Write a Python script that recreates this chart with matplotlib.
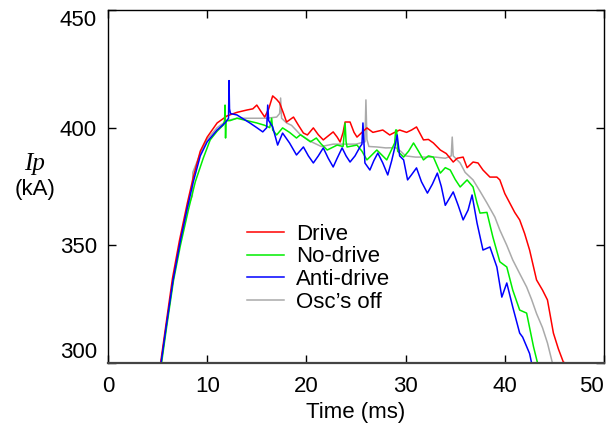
import matplotlib
matplotlib.use("Agg")
import matplotlib.pyplot as plt

# Drive
t_drive = [5.3, 5.8, 6.5, 7.2, 8.0, 8.6, 9.3, 10.0, 11.0, 12.0, 13.0, 14.0, 14.6, 15.0, 15.4,
           15.8, 16.2, 16.6, 17.0, 17.3, 17.7, 18.0, 18.7, 19.2, 19.7, 20.1, 20.7, 21.2, 21.7,
           22.2, 22.7, 23.1, 23.4, 23.7, 23.9, 24.4, 24.8, 25.1, 25.6, 26.1, 26.7, 27.2, 27.7,
           28.4, 28.9, 29.4, 30.1, 30.6, 31.1, 31.8, 32.3, 32.8, 33.5, 34.1, 34.8, 35.2, 35.8,
           36.2, 36.8, 37.3, 37.8, 38.5, 39.2, 39.5, 40.0, 40.5, 41.0, 41.5, 42.0, 42.5, 43.2,
           43.8, 44.3, 44.9, 45.4, 45.9, 46.1]
v_drive = [300, 315, 336, 352, 368, 379, 390, 396, 402, 405, 406.5, 407.5, 408, 409.6, 407,
           404.5, 408, 413.5, 412, 410.5, 406, 402.4, 404.5, 401, 397.7, 396.9, 399.9, 397, 394.8,
           396.5, 398.2, 396, 393.9, 398, 402.4, 402.4, 398, 396, 398, 399.9, 398, 398.5, 399,
           396.9, 398, 399, 398, 399, 400.3, 394.8, 395, 393.5, 390.5, 389, 385.4, 387, 387.5,
           383, 385.4, 385, 382, 379, 379, 377.8, 372, 368, 364, 360.8, 355, 348, 335.3,
           331, 326.8, 312.7, 306, 300.4, 300]

# No-drive
t_nodrive = [5.4, 5.9, 6.6, 7.3, 8.1, 8.8, 9.6, 10.3, 11.0, 11.6, 11.75, 11.8, 11.85, 11.9, 12.3,
             13.0, 14.0, 15.0, 15.8, 16.3, 16.5, 16.6, 17.0, 17.6, 18.3, 19.0, 19.4, 20.4, 21.0,
             21.5, 22.1, 23.1, 23.7, 23.9, 24.0, 24.1, 25.1, 25.6, 26.1, 27.1, 28.1, 28.9, 29.0,
             29.1, 29.2, 29.8, 30.3, 30.8, 31.3, 31.8, 32.3, 32.8, 33.5, 34.0, 34.5, 35.0, 35.5,
             36.2, 36.8, 37.2, 37.5, 38.2, 38.8, 39.5, 40.2, 40.8, 41.5, 42.2, 42.9, 43.3]
v_nodrive = [300, 315, 335, 350, 365, 377, 387, 394.8, 398.5, 401, 403, 409.6, 395.6, 403, 403,
             404, 403, 402, 401, 400, 404, 399, 396.9, 399.9, 398, 395.6, 397, 394, 395.6,
             393, 390.5, 392.6, 392, 402, 394, 391.8, 392.6, 390, 386.3, 390.5, 386.3, 393.5, 399,
             399, 390, 387.5, 390, 393.5, 390, 386.3, 388, 387.5, 380.7, 383, 382, 378, 374.8,
             377.8, 374.8, 368, 363.7, 364, 353.5, 343, 340.8, 331, 322.5, 321.2, 306.8, 300]

# Anti-drive
t_anti = [5.35, 5.85, 6.55, 7.3, 8.0, 8.6, 9.3, 10.0, 11.0, 11.8, 12.15, 12.2, 12.25, 12.35, 13.0,
          14.3, 15.0, 15.6, 16.0, 16.1, 16.2, 16.6, 17.1, 17.6, 18.3, 19.0, 19.7, 20.2, 20.7,
          21.2, 21.7, 22.2, 22.7, 23.1, 23.6, 24.0, 24.4, 24.9, 25.4, 25.6, 25.7, 25.9, 26.4,
          26.8, 27.2, 27.7, 28.2, 28.6, 28.9, 29.15, 29.4, 29.8, 30.2, 30.6, 31.1, 31.6, 32.2,
          32.7, 33.2, 33.6, 34.0, 34.8, 35.3, 35.8, 36.3, 36.7, 37.2, 37.8, 38.5, 39.2, 39.7,
          40.2, 40.8, 41.5, 41.8, 42.5, 42.7]
v_anti = [300, 315, 335, 352, 366, 377, 388, 394, 399, 402, 404, 420, 408, 406, 405.4,
          402, 400, 398.2, 400, 409.6, 403, 400.3, 392.6, 397.7, 393.5, 388.4, 391.8, 388, 385,
          388, 391.4, 387, 383.3, 387, 391.4, 388, 385.4, 388, 391.8, 393, 402, 385, 382,
          386, 389.2, 385, 379.9, 386, 391.4, 396.9, 388, 386.3, 377.8, 380, 382.9, 377, 372.2,
          376, 380.7, 375, 367, 372.7, 367, 360.8, 365, 371.4, 359.5, 348, 349.3, 340.8, 328,
          334, 323.8, 312.7, 311, 304, 300]

# Osc's off
t_off = [5.35, 5.85, 6.55, 7.3, 8.0, 8.5, 8.55, 9.3, 10.0, 11.0, 12.0, 13.0, 14.0, 15.0, 16.0,
         17.0, 17.3, 17.4, 17.5, 18.0, 18.5, 19.4, 20.5, 21.5, 22.7, 24.0, 25.0, 25.9, 26.0,
         26.1, 26.3, 27.1, 28.0, 29.0, 29.5, 30.0, 31.0, 32.0, 33.0, 34.0, 34.6, 34.7, 34.8,
         35.5, 36.0, 36.8, 37.5, 38.2, 39.0, 39.5, 40.2, 40.8, 41.5, 42.2, 42.7, 43.2, 43.8,
         44.3, 44.8]
v_off = [300, 315, 335, 352, 366, 371, 381, 389, 395, 400, 403, 404, 404, 404, 404,
         404.5, 406, 412.6, 404, 402, 401, 397, 394, 392, 393, 393, 393, 394, 411.8,
         395, 392, 391.8, 391.4, 391.5, 390, 388, 387.5, 387.5, 387.5, 387, 388, 396, 388,
         385, 381, 377.8, 373, 368, 362, 356.5, 350, 343.8, 338, 332.3, 327, 321, 315,
         308.5, 300]

x_ticks = [0, 10, 20, 30, 40, 50]
y_ticks = [300, 350, 400, 450]

plt.rcParams['font.family'] = ['Liberation Sans', 'DejaVu Sans']

fig = plt.figure(figsize=(6.13, 4.28), dpi=100)
ax = fig.add_axes([108 / 613, 1 - 363 / 428, 496 / 613, 353 / 428])

l_off, = ax.plot(t_off, v_off, color='#aaaaaa', lw=1.1)
l_drive, = ax.plot(t_drive, v_drive, color='#ff0000', lw=1.1)
l_nodrive, = ax.plot(t_nodrive, v_nodrive, color='#00ee00', lw=1.1)
l_anti, = ax.plot(t_anti, v_anti, color='#0000ff', lw=1.1)

ax.set_xlim(0, 50)
ax.set_ylim(300, 450)
ax.set_xticks(x_ticks)
ax.set_yticks(y_ticks)
ax.tick_params(direction='in', length=6, width=1, top=True, right=True, labelsize=16)
ax.tick_params(axis='x', pad=9)
ax.tick_params(axis='y', pad=8)
# end labels are pulled inside, as in the original
ax.get_xticklabels()[-1].set_horizontalalignment('right')
ax.get_yticklabels()[0].set_verticalalignment('bottom')
ax.get_yticklabels()[-1].set_verticalalignment('top')
for side in ['left', 'right', 'top']:
    ax.spines[side].set_linewidth(1.0)
ax.spines['bottom'].set_linewidth(1.6)
ax.spines['bottom'].set_color('#444444')

ax.set_xlabel('Time (ms)', fontsize=16, labelpad=4)

fig.text(35 / 613, 1 - 164 / 428, 'Ip', family='Liberation Serif', style='italic',
         fontsize=18, ha='center', va='center')
fig.text(35 / 613, 1 - 190 / 428, '(kA)', fontsize=16, ha='center', va='center')

ax.legend([l_drive, l_nodrive, l_anti, l_off],
          ['Drive', 'No-drive', 'Anti-drive', 'Osc\u2019s off'],
          loc='upper left', bbox_to_anchor=(0.280, 0.395), frameon=False,
          fontsize=16, handlelength=1.65, handletextpad=0.55, labelspacing=0.08,
          borderpad=0, borderaxespad=0)

fig.savefig('out.png', dpi=100)
